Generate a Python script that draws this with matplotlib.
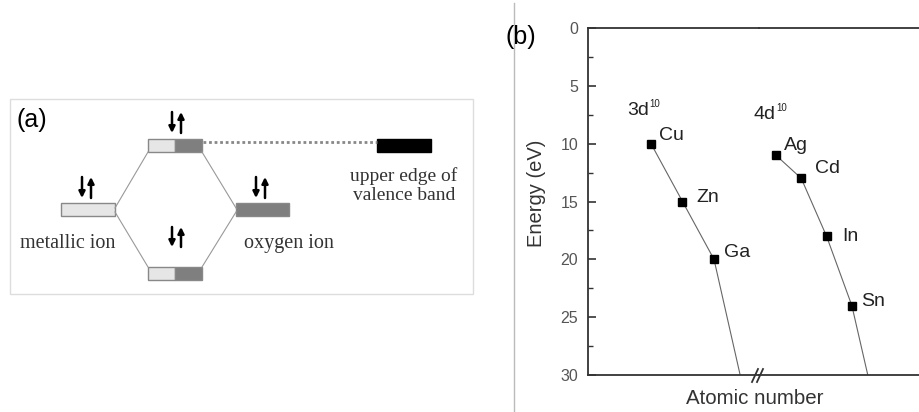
import matplotlib
matplotlib.use("Agg")
import matplotlib.pyplot as plt
from matplotlib.patches import Rectangle
from matplotlib.lines import Line2D

# (b) d-level energies vs atomic number
elements_3d = ['Cu', 'Zn', 'Ga']
z_3d = [29, 30, 31]
energy_3d = [10, 15, 20]
elements_4d = ['Ag', 'Cd', 'In', 'Sn']
z_4d = [47, 48, 49, 50]
energy_4d = [11, 13, 18, 24]
# guide lines run on past the last point down to the 30 eV edge
tail_3d = ([31, 31.83], [20, 30])
tail_4d = ([50, 50.63], [24, 30])

yticks = [0, 5, 10, 15, 20, 25, 30]

# label offsets (points) for the element names
off_3d = [(6, 6), (10, 3), (7, 5)]
off_4d = [(6, 7), (10, 7), (11, 0), (7, 3)]

W, H = 920, 412
fig = plt.figure(figsize=(W / 100, H / 100), dpi=100)
plt.rcParams['font.family'] = ['Liberation Sans', 'DejaVu Sans']

def fx(px):
    return px / W

def fy(py):
    return 1 - py / H

# ---- panel (a): schematic in pixel coordinates ----
sk = fig.add_axes([0, 0, 1, 1])
sk.set_xlim(0, W)
sk.set_ylim(H, 0)
sk.axis('off')

sk.add_patch(Rectangle((10, 99), 463, 195, fill=False, ec='#dddddd', lw=1))
sk.plot([514, 514], [3, 412], color='#bbbbbb', lw=1)

light, dark, edge = '#e6e6e6', '#7f7f7f', '#888888'

def level(x, y, w, h, colors):
    n = len(colors)
    for i, c in enumerate(colors):
        sk.add_patch(Rectangle((x + i * w / n, y), w / n, h, fc=c, ec=edge, lw=1))

level(61, 203, 54, 13, [light])
level(236, 203, 53, 13, [dark])
level(148, 139, 54, 13, [light, dark])
level(148, 267, 54, 13, [light, dark])
sk.add_patch(Rectangle((377, 139), 54, 13, fc='black', ec='black', lw=1))
sk.plot([203, 377], [142, 142], color='#888888', lw=2, ls=(0, (1, 1)))

for xs, ys in [([115, 148], [208, 152]), ([115, 148], [212, 267]),
               ([236, 202], [208, 152]), ([236, 202], [212, 267])]:
    sk.plot(xs, ys, color='#999999', lw=0.8)

def spins(x, ytop, ybot):
    kw = dict(arrowstyle='-|>', color='black', lw=1.8, mutation_scale=9,
              shrinkA=0, shrinkB=0)
    sk.annotate('', xy=(x - 4, ybot), xytext=(x - 4, ytop), arrowprops=kw)
    sk.annotate('', xy=(x + 5, ytop), xytext=(x + 5, ybot), arrowprops=kw)

spins(86, 177, 198)
spins(260, 177, 198)
spins(176, 112, 133)
spins(176, 227, 247)

serif = dict(family=['Liberation Serif', 'DejaVu Serif'], color='#333333')
sk.text(20, 243, 'metallic ion', ha='left', va='center', fontsize=14.5, **serif)
sk.text(244, 243, 'oxygen ion', ha='left', va='center', fontsize=14.5, **serif)
sk.text(404, 186, 'upper edge of\nvalence band', ha='center', va='center',
        linespacing=1.15, fontsize=14, **serif)
sk.text(16, 120, '(a)', ha='left', va='center', fontsize=18)
sk.text(506, 37, '(b)', ha='left', va='center', fontsize=18)

# ---- panel (b): broken x axis, two axes side by side ----
top, bot = 28, 375
xl, xm, xr = 588, 759, 930
axL = fig.add_axes([fx(xl), fy(bot), fx(xm - xl), (bot - top) / H])
axR = fig.add_axes([fx(xm), fy(bot), fx(xr - xm), (bot - top) / H])
for ax in (axL, axR):
    ax.set_ylim(30, 0)
    ax.patch.set_alpha(0)
    ax.set_xticks([])
    ax.spines['right'].set_visible(False)
    for s in ('top', 'bottom', 'left'):
        ax.spines[s].set_linewidth(1.3)
        ax.spines[s].set_color('#333333')
axR.spines['left'].set_visible(False)
axR.tick_params(left=False, labelleft=False, which='both')

axL.set_xlim(27.0, 27.0 + (xm - xl) / 31.5)
axR.set_xlim(46.33, 46.33 + (xr - xm) / 25.3)

axL.set_yticks(yticks)
axL.set_yticks([2.5, 7.5, 12.5, 17.5, 22.5, 27.5], minor=True)
axL.tick_params(axis='y', which='major', direction='in', length=6, width=1.2,
                pad=7, labelsize=11.5, labelcolor='#555555', color='#333333')
axL.tick_params(axis='y', which='minor', direction='in', length=3.5, width=1,
                color='#333333')

line_kw = dict(color='#666666', lw=0.8)
mark_kw = dict(marker='s', ms=5.5, color='black', ls='none', zorder=3)
lab_kw = dict(textcoords='offset points', fontsize=14, color='#222222',
              ha='left', va='center')

axL.plot(z_3d, energy_3d, **line_kw)
axL.plot(*tail_3d, **line_kw)
axL.plot(z_3d, energy_3d, **mark_kw)
for name, z, e, off in zip(elements_3d, z_3d, energy_3d, off_3d):
    axL.annotate(name, (z, e), xytext=off, **lab_kw)

axR.plot(z_4d, energy_4d, **line_kw)
axR.plot(*tail_4d, **line_kw)
axR.plot(z_4d, energy_4d, **mark_kw)
for name, z, e, off in zip(elements_4d, z_4d, energy_4d, off_4d):
    axR.annotate(name, (z, e), xytext=off, **lab_kw)

# shell labels with a small raised "10"
for ax, x, y, shell in [(axL, 28.24, 7.1, '3d'), (axR, 46.1, 7.5, '4d')]:
    t = ax.text(x, y, shell, fontsize=14, color='#222222', va='center')
    ax.annotate('10', xy=(1, 1), xycoords=t, xytext=(0.5, 2),
                textcoords='offset points', fontsize=7, color='#222222',
                ha='left', va='top')

fig.text(fx(537), fy(193), 'Energy (eV)', rotation=90, ha='center',
         va='center', fontsize=14.5, color='#333333')
fig.text(fx(755), fy(399), 'Atomic number', ha='center', va='center',
         fontsize=14.8, color='#333333')

# break marks on the x axis
for x0 in (752, 757):
    fig.add_artist(Line2D([fx(x0), fx(x0 + 6)], [fy(382), fy(369)],
                          color='#333333', lw=1.3, transform=fig.transFigure))

fig.savefig('out.png', dpi=100)
